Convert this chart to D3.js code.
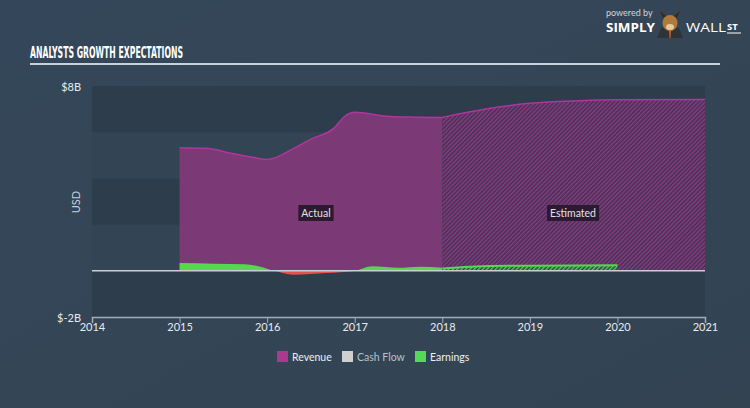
<!DOCTYPE html>
<html><head><meta charset="utf-8">
<script src="https://cdn.jsdelivr.net/npm/d3@7"></script>
<style>
body{margin:0;background:#344556;}
svg{display:block;}
</style></head>
<body>
<svg id="chart" width="750" height="408"></svg>
<script>
// ---- data ----
const revenueYears  = [2015.0, 2015.3, 2015.6, 2015.85, 2016.0, 2016.1, 2016.25, 2016.5, 2016.77, 2016.88, 2017.0, 2017.4, 2017.7, 2018.0];
const revenueValues = [5.33, 5.3, 5.08, 4.9, 4.82, 4.9, 5.19, 5.7, 6.2, 6.67, 6.86, 6.68, 6.65, 6.64];
const revenueEstYears  = [2018.0, 2018.5, 2019.0, 2019.57, 2020.0, 2021.0];
const revenueEstValues = [6.64, 7.0, 7.25, 7.36, 7.4, 7.42];
const earningsYears  = [2015.0, 2015.4, 2015.74, 2015.9, 2016.08, 2016.3, 2016.68, 2017.0, 2017.2, 2017.5, 2017.75, 2018.0];
const earningsValues = [0.34, 0.31, 0.28, 0.2, 0.0, -0.17, -0.1, 0.0, 0.2, 0.13, 0.18, 0.13];
const earningsEstYears  = [2018.0, 2018.55, 2019.0, 2020.0];
const earningsEstValues = [0.1, 0.21, 0.22, 0.24];
const xTicks = [2014, 2015, 2016, 2017, 2018, 2019, 2020, 2021];
const yTicks = [8, -2];
const legendItems = ["Revenue", "Cash Flow", "Earnings"];
const legendColors = ["#a93a8e", "#cfcfcf", "#55d855"];

// ---- setup ----
const svg = d3.select("#chart");
const W = 750, H = 408;
const x = d3.scaleLinear().domain([2014, 2021]).range([92, 705]);
const y = d3.scaleLinear().domain([-2, 8]).range([317, 86]);

// background gradient
const defs = svg.append("defs");
const bg = defs.append("linearGradient").attr("id","bg").attr("x1","0").attr("y1","0").attr("x2","1").attr("y2","1");
bg.append("stop").attr("offset","0%").attr("stop-color","#34475a");
bg.append("stop").attr("offset","100%").attr("stop-color","#334352");
svg.append("rect").attr("width",W).attr("height",H).attr("fill","url(#bg)");

// hatch pattern for estimates
const pat = defs.append("pattern").attr("id","hatchRev").attr("patternUnits","userSpaceOnUse")
  .attr("width",3).attr("height",3).attr("patternTransform","rotate(45)");
pat.append("rect").attr("width",3).attr("height",3).attr("fill","#3a3450");
pat.append("rect").attr("width",1.5).attr("height",3).attr("fill","#8f3884");
const patG = defs.append("pattern").attr("id","hatchEarn").attr("patternUnits","userSpaceOnUse")
  .attr("width",3).attr("height",3).attr("patternTransform","rotate(45)");
patG.append("rect").attr("width",3).attr("height",3).attr("fill","#2f3d4a");
patG.append("rect").attr("width",1.5).attr("height",3).attr("fill","#52d052");

// plot bands
const bandEdges = d3.range(-2, 8, 2);
svg.append("g").selectAll("rect").data(bandEdges).join("rect")
  .attr("x", x(2014)).attr("width", x(2021)-x(2014))
  .attr("y", d => y(d+2)).attr("height", d => y(d)-y(d+2))
  .attr("fill", d => ((d+2)/2)%2===0 ? "#2e3d4c" : "#334454");

// revenue areas
const area = d3.area().x(d=>x(d[0])).y0(y(0)).y1(d=>y(d[1])).curve(d3.curveMonotoneX);
const line = d3.line().x(d=>x(d[0])).y(d=>y(d[1])).curve(d3.curveMonotoneX);
const rev = revenueYears.map((t,i)=>[t,revenueValues[i]]);
const revE = revenueEstYears.map((t,i)=>[t,revenueEstValues[i]]);
svg.append("path").attr("d", area(rev)).attr("fill","#7b3a76");
svg.append("path").attr("d", area(revE)).attr("fill","url(#hatchRev)");
svg.append("path").attr("d", line(rev)).attr("fill","none").attr("stroke","#b0359c").attr("stroke-width",1.5);
svg.append("path").attr("d", line(revE)).attr("fill","none").attr("stroke","#b0359c").attr("stroke-width",1.5);

// earnings
const earn = earningsYears.map((t,i)=>[t,earningsValues[i]]);
const earnE = earningsEstYears.map((t,i)=>[t,earningsEstValues[i]]);
const clipPos = defs.append("clipPath").attr("id","pos");
clipPos.append("rect").attr("x",0).attr("y",0).attr("width",W).attr("height",y(0));
const clipNeg = defs.append("clipPath").attr("id","neg");
clipNeg.append("rect").attr("x",0).attr("y",y(0)).attr("width",W).attr("height",H-y(0));
svg.append("path").attr("d", area(earn)).attr("fill","#52d94e").attr("clip-path","url(#pos)");
svg.append("path").attr("d", area(earn)).attr("fill","#ea4f4f").attr("clip-path","url(#neg)");
svg.append("path").attr("d", area(earnE)).attr("fill","url(#hatchEarn)");
svg.append("path").attr("d", line(earnE)).attr("fill","none").attr("stroke","#52d94e").attr("stroke-width",2);

// zero / cash flow line
svg.append("line").attr("x1",x(2014)).attr("x2",x(2021)).attr("y1",y(0)).attr("y2",y(0))
  .attr("stroke","#c9ced3").attr("stroke-width",1.5);

// labels Actual / Estimated
function tag(cx, cy, txt){
  const g = svg.append("g");
  const t = g.append("text").attr("x",cx).attr("y",cy).attr("text-anchor","middle").attr("dominant-baseline","central")
    .attr("font-family","Lato, 'Open Sans', sans-serif").attr("font-size",10.5).attr("fill","#e6e0ea").text(txt);
  const bb = t.node().getBBox();
  g.insert("rect","text").attr("x",bb.x-3).attr("y",cy-8).attr("width",bb.width+6).attr("height",16).attr("fill","#2b1a30");
}
tag(316, 213, "Actual");
tag(573, 213, "Estimated");

// x axis
const xAxis = d3.axisBottom(x).tickValues(xTicks).tickFormat(d3.format("d")).tickSize(6);
const gx = svg.append("g").attr("transform",`translate(0,317)`).call(xAxis);
gx.select(".domain").attr("stroke","#a3adb8").attr("stroke-width",1.5);
gx.selectAll(".tick line").attr("stroke","#a3adb8").attr("stroke-width",1);
gx.selectAll(".tick text").attr("fill","#e8ecef").attr("font-family","Lato, sans-serif").attr("font-size",11).attr("dy","0.45em");

// y tick labels
svg.append("g").selectAll("text").data(yTicks).join("text")
  .attr("x",81).attr("y",d=>y(d)).attr("text-anchor","end").attr("dominant-baseline","central")
  .attr("fill","#e8ecef").attr("font-family","Lato, sans-serif").attr("font-size",11)
  .text(d=>"$"+d+"B");
svg.append("text").attr("transform","translate(80,202) rotate(-90)").attr("text-anchor","middle")
  .attr("fill","#c8d0d8").attr("font-family","Lato, sans-serif").attr("font-size",11).text("USD");

// title
svg.append("text").attr("x",30).attr("y",58).attr("fill","#ffffff")
  .attr("font-family","'Liberation Sans Narrow','DejaVu Sans Condensed',sans-serif").attr("font-weight","bold")
  .attr("font-size",15).attr("textLength",153).attr("lengthAdjust","spacingAndGlyphs")
  .text("ANALYSTS GROWTH EXPECTATIONS");
svg.append("line").attr("x1",30).attr("x2",720).attr("y1",64).attr("y2",64).attr("stroke","#c8d0d8").attr("stroke-width",2);

// logo
svg.append("text").attr("x",606).attr("y",16).attr("fill","#d0d6dc").attr("font-family","Lato, sans-serif").attr("font-size",9).text("powered by");
svg.append("text").attr("x",606).attr("y",32).attr("fill","#ffffff").attr("font-family","'Open Sans', sans-serif").attr("font-weight","bold").attr("font-size",12.5).attr("textLength",49).attr("lengthAdjust","spacingAndGlyphs").text("SIMPLY");
const logo = svg.append("g").attr("transform","translate(670,24)");
logo.append("path").attr("d","M-13,14 L-9,4 L9,4 L13,14 Z").attr("fill","#2f3336");
logo.append("ellipse").attr("cx",0).attr("cy",-1).attr("rx",7.5).attr("ry",8).attr("fill","#b07a3a");
logo.append("ellipse").attr("cx",0).attr("cy",3).attr("rx",4).attr("ry",3).attr("fill","#e8c99a");
logo.append("path").attr("d","M-7,-6 L-10,-13 L-4,-8 Z M7,-6 L10,-13 L4,-8 Z").attr("fill","#3a2a1a");
logo.append("path").attr("d","M-1,6 L1,6 L0.5,14 L-0.5,14 Z").attr("fill","#e06020");
svg.append("text").attr("x",686).attr("y",32).attr("fill","#ffffff").attr("font-family","'Open Sans', sans-serif").attr("font-size",13).attr("textLength",40).attr("lengthAdjust","spacingAndGlyphs").text("WALL");
svg.append("text").attr("x",727).attr("y",30).attr("fill","#ffffff").attr("font-family","'Open Sans', sans-serif").attr("font-weight","bold").attr("font-size",9.5).text("ST");
svg.append("line").attr("x1",727).attr("x2",741).attr("y1",33).attr("y2",33).attr("stroke","#fff").attr("stroke-width",1);

// legend
const legX = [277, 342, 415];
const lg = svg.append("g").selectAll("g").data(legendItems).join("g")
  .attr("transform",(d,i)=>`translate(${legX[i]},351)`);
lg.append("rect").attr("width",11).attr("height",11).attr("fill",(d,i)=>legendColors[i]);
lg.append("text").attr("x",15).attr("y",6).attr("dominant-baseline","central")
  .attr("fill",(d,i)=> i===1 ? "#b8c0c8" : "#eef0f2").attr("font-family","Lato, sans-serif").attr("font-size",10.5).text(d=>d);
</script>
</body></html>
